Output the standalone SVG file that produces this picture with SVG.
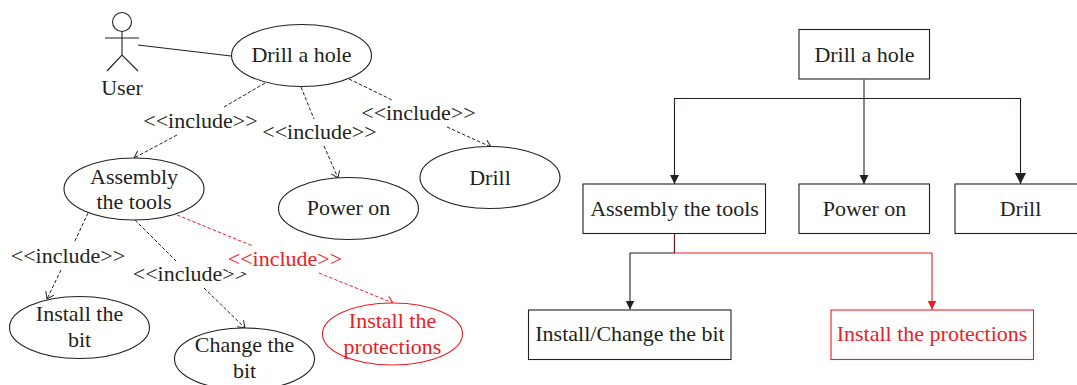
<svg xmlns="http://www.w3.org/2000/svg" width="1077" height="385" viewBox="0 0 1077 385">
<style>
text{font-family:"Liberation Serif","Times New Roman",serif;font-size:22px;fill:#231f20;text-anchor:middle}
.n{fill:#fff;stroke:#231f20;stroke-width:1.1}
.r{fill:#fff;stroke:#ee1c25;stroke-width:1.1}
text.t{fill:#ee1c25}
.d{fill:none;stroke:#231f20;stroke-width:1;stroke-dasharray:3.5 2}
.dr{fill:none;stroke:#ee1c25;stroke-width:1;stroke-dasharray:3.5 2}
.c{fill:none;stroke:#231f20;stroke-width:1.1}
.cr{fill:none;stroke:#ee1c25;stroke-width:1.1}
</style>
<defs>
<marker id="o" markerUnits="userSpaceOnUse" markerWidth="12" markerHeight="12" refX="9" refY="6" orient="auto"><path d="M2.500 1.500L9 6L2.500 10.500" fill="none" stroke="#231f20" stroke-width="1"/></marker>
<marker id="or" markerUnits="userSpaceOnUse" markerWidth="12" markerHeight="12" refX="9" refY="6" orient="auto"><path d="M2.500 1.500L9 6L2.500 10.500" fill="none" stroke="#ee1c25" stroke-width="1"/></marker>
<marker id="f" markerUnits="userSpaceOnUse" markerWidth="10" markerHeight="10" refX="9" refY="5" orient="auto"><path d="M0 .5L9 5L0 9.500z" fill="#231f20"/></marker>
<marker id="fl" markerUnits="userSpaceOnUse" markerWidth="12" markerHeight="12" refX="11" refY="6" orient="auto"><path d="M0 .5L11 6L0 11.500z" fill="#231f20"/></marker>
<marker id="fr" markerUnits="userSpaceOnUse" markerWidth="10" markerHeight="10" refX="9" refY="5" orient="auto"><path d="M0 .5L9 5L0 9.500z" fill="#ee1c25"/></marker>
</defs>
<g id="connectors">
<path class="c" d="M138 45L231 56"/>
<path class="d" d="M265 83L224 107M177 135L134 158" marker-end="url(#o)"/>
<path class="d" d="M301 87L314 119M324 146L338 178" marker-end="url(#o)"/>
<path class="d" d="M349 79L392 100M447 127L491 147" marker-end="url(#o)"/>
<path class="d" d="M88 213L74 243M61 270L47 299" marker-end="url(#o)"/>
<path class="d" d="M135 220L176 261M204 288L245 328" marker-end="url(#o)"/>
<path class="dr" d="M177 215L253 246M319 273L393 303" marker-end="url(#or)"/>
<text x="200.500" y="127.500">&lt;&lt;include&gt;&gt;</text>
<text x="319.500" y="138.500">&lt;&lt;include&gt;&gt;</text>
<text x="418.500" y="119.500">&lt;&lt;include&gt;&gt;</text>
<text x="68" y="262.500">&lt;&lt;include&gt;&gt;</text>
<text x="190" y="281">&lt;&lt;include&gt;&gt;</text>
<rect x="228" y="248" width="115" height="24" fill="#fff"/>
<text class="t" x="285" y="265.500">&lt;&lt;include&gt;&gt;</text>
<path class="c" d="M864 79.500V184" marker-end="url(#f)"/>
<path class="c" d="M864 98.500H674.500V184" marker-end="url(#f)"/>
<path class="c" d="M864 98.500H1020.500V184" marker-end="url(#fl)"/>
<path class="c" d="M674.500 234V253H630V309.500" marker-end="url(#f)"/>
<path class="cr" d="M674.500 253H932V309.500" marker-end="url(#fr)"/>
<path d="M674.500 234V253" fill="none" stroke="#6b1a1e" stroke-width="1.1"/>
</g>
<g id="user">
<circle cx="122" cy="22" r="9.500" class="n"/>
<path class="c" d="M122 31.500V55M105 38H139M107 71L122 55L138 71"/>
<text x="122" y="95">User</text>
</g>
<g id="uc-drill-a-hole"><ellipse class="n" cx="301.500" cy="55.500" rx="70" ry="31"/><text x="301.500" y="62">Drill a hole</text></g>
<g id="uc-assembly"><ellipse class="n" cx="134" cy="189" rx="70" ry="31"/><text x="134" y="183.500">Assembly</text><text x="134" y="209">the tools</text></g>
<g id="uc-power"><ellipse class="n" cx="348.500" cy="208.500" rx="70" ry="31"/><text x="348.500" y="215">Power on</text></g>
<g id="uc-drill"><ellipse class="n" cx="490" cy="177.500" rx="70" ry="31"/><text x="490" y="184.500">Drill</text></g>
<g id="uc-install-bit"><ellipse class="n" cx="79.500" cy="327.500" rx="70" ry="31"/><text x="79.500" y="321">Install the</text><text x="79.500" y="347">bit</text></g>
<g id="uc-change-bit"><ellipse class="n" cx="244.500" cy="359" rx="70" ry="31"/><text x="244.500" y="352">Change the</text><text x="244.500" y="378">bit</text></g>
<g id="uc-protections"><ellipse class="r" cx="392.500" cy="334" rx="70" ry="31"/><text class="t" x="392.500" y="328">Install the</text><text class="t" x="392.500" y="353.500">protections</text></g>
<g id="b-drill-a-hole"><rect class="n" x="799" y="29.500" width="130.500" height="49.500"/><text x="864.500" y="61.500">Drill a hole</text></g>
<g id="b-assembly"><rect class="n" x="583" y="184" width="182.500" height="49.500"/><text x="674.500" y="215.500">Assembly the tools</text></g>
<g id="b-power"><rect class="n" x="799" y="184" width="130.500" height="49.500"/><text x="864.500" y="215.500">Power on</text></g>
<g id="b-drill"><rect class="n" x="955" y="184" width="131" height="49.500"/><text x="1020.500" y="215.500">Drill</text></g>
<g id="b-install"><rect class="n" x="528.500" y="310" width="202.500" height="49.500"/><text x="630" y="340.500">Install/Change the bit</text></g>
<g id="b-protections"><rect class="r" x="831" y="310" width="202.500" height="49.500"/><text class="t" x="932" y="340.500">Install the protections</text></g>
</svg>
